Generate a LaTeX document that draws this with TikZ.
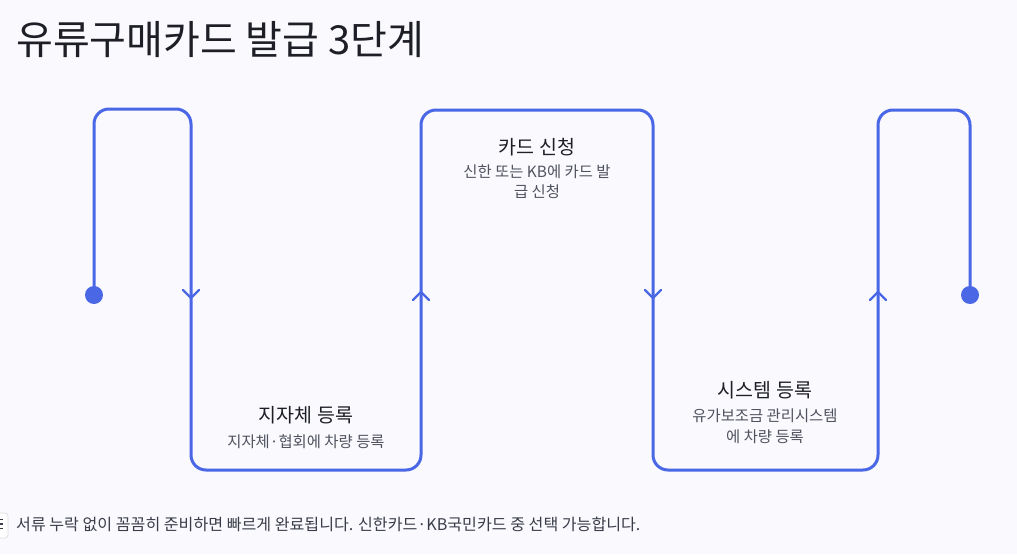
\documentclass[tikz,border=0pt]{standalone}
\usepackage{fontspec}
\setmainfont{Noto Sans CJK KR}
\definecolor{flowblue}{HTML}{4A67E6}
\definecolor{bgclr}{HTML}{F9F9FE}
\definecolor{titleclr}{HTML}{1E1F26}
\definecolor{subclr}{HTML}{50535E}
\definecolor{footclr}{HTML}{3A3D48}
\begin{document}
\begin{tikzpicture}[x=1pt,y=-1pt,
  flow/.style={draw=flowblue, line width=3pt, rounded corners=15pt, line join=round},
  chev/.style={draw=flowblue, line width=2.2pt, line cap=round},
  steptitle/.style={font=\fontsize{19.5}{23}\selectfont, text=titleclr, inner sep=0pt},
  stepsub/.style={font=\fontsize{15.4}{20.5}\selectfont, text=subclr, inner sep=0pt, align=center},
  dotstyle/.style={circle, fill=flowblue, minimum size=18pt, inner sep=0pt}]
\useasboundingbox (0,0) rectangle (1017,554);
\fill[bgclr] (0,0) rectangle (1017,554);

% title
\node[anchor=west, inner sep=0pt, text=titleclr, font=\fontsize{40}{44}\selectfont] (title) at (16,40) {유류구매카드 발급 3단계};

% path coordinates
\coordinate (p0) at (94,295);
\coordinate (p1) at (94,109);
\coordinate (p2) at (191,109);
\coordinate (p3) at (191,470);
\coordinate (p4) at (421,470);
\coordinate (p5) at (421,110);
\coordinate (p6) at (653,110);
\coordinate (p7) at (653,470);
\coordinate (p8) at (878,470);
\coordinate (p9) at (878,110);
\coordinate (p10) at (970,110);
\coordinate (p11) at (970,295);

\draw[flow] (p0) -- (p1) -- (p2) -- (p3) -- (p4) -- (p5) -- (p6) -- (p7) -- (p8) -- (p9) -- (p10) -- (p11);

\node[dotstyle] (startdot) at (p0) {};
\node[dotstyle] (enddot) at (p11) {};

% chevrons
\coordinate (a1) at (191,298);
\coordinate (a2) at (421,292);
\coordinate (a3) at (653,298);
\coordinate (a4) at (878,292);
\draw[chev] ([shift={(-8,-8)}]a1) -- (a1) -- ([shift={(8,-8)}]a1);
\draw[chev] ([shift={(-8,8)}]a2) -- (a2) -- ([shift={(8,8)}]a2);
\draw[chev] ([shift={(-8,-8)}]a3) -- (a3) -- ([shift={(8,-8)}]a3);
\draw[chev] ([shift={(-8,8)}]a4) -- (a4) -- ([shift={(8,8)}]a4);

% step texts
\node[steptitle] (t1) at (306,415) {지자체 등록};
\node[stepsub] (s1) at (306,442) {지자체·협회에 차량 등록};

\node[steptitle] (t2) at (537,147) {카드 신청};
\node[stepsub, anchor=north] (s2) at (537,164.5) {신한 또는 KB에 카드 발\\급 신청};

\node[steptitle] (t3) at (765,390) {시스템 등록};
\node[stepsub, anchor=north] (s3) at (765,409) {유가보조금 관리시스템\\에 차량 등록};

% footer icon
\draw[draw=black!13, fill=white, rounded corners=3pt, line width=0.8pt] (-8,513) rectangle (8,538);
\foreach \yy in {519.5,524,528.5} \draw[footclr, line width=1.2pt] (-1,\yy) -- (3,\yy);

% footer text
\node[anchor=west, inner sep=0pt, text=footclr, font=\fontsize{16.1}{19}\selectfont] (foot) at (16,524) {서류 누락 없이 꼼꼼히 준비하면 빠르게 완료됩니다. 신한카드·KB국민카드 중 선택 가능합니다.};
\end{tikzpicture}
\end{document}
